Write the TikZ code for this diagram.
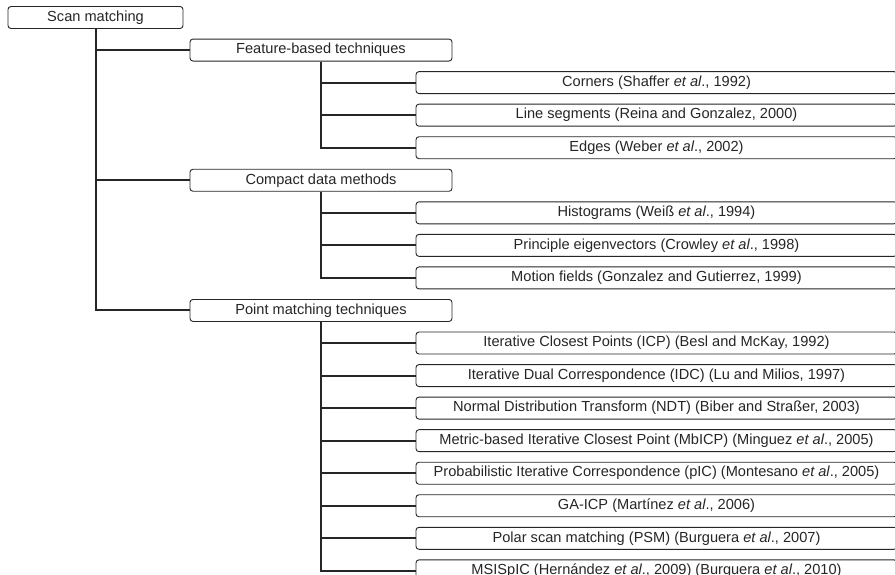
\documentclass[tikz,border=0pt]{standalone}
\usepackage{fontspec}
\setmainfont{Liberation Sans}
\begin{document}
\begin{tikzpicture}[x=1pt,y=-1pt,
  every node/.style={font=\fontsize{14.6pt}{17pt}\selectfont, text=black!85},
  tbox/.style={draw=black!85, line width=0.9pt, rounded corners=3pt, minimum height=22pt, inner sep=0pt, fill=white},
  rootbox/.style={tbox, minimum width=175pt},
  lonebox/.style={tbox, minimum width=262pt},
  ltwobox/.style={tbox, minimum width=481pt},
  conn/.style={draw=black!85, line width=2pt}]
\useasboundingbox (0,0) rectangle (895,574);
\def\rowy#1{17.5+32.55*#1}
% root
\node[rootbox] (root) at (95.5,{\rowy{0}}) {Scan matching};
% level 1
\node[lonebox] (feat) at (321,{\rowy{1}}) {Feature-based techniques};
\node[lonebox] (comp) at (321,{\rowy{5}}) {Compact data methods};
\node[lonebox] (point) at (321,{\rowy{9}}) {Point matching techniques};
% level 2
\node[ltwobox] (f1) at (656.5,{\rowy{2}}) {Corners (Shaffer \textit{et al}., 1992)};
\node[ltwobox] (f2) at (656.5,{\rowy{3}}) {Line segments (Reina and Gonzalez, 2000)};
\node[ltwobox] (f3) at (656.5,{\rowy{4}}) {Edges (Weber \textit{et al}., 2002)};
\node[ltwobox] (c1) at (656.5,{\rowy{6}}) {Histograms (Weiß \textit{et al}., 1994)};
\node[ltwobox] (c2) at (656.5,{\rowy{7}}) {Principle eigenvectors (Crowley \textit{et al}., 1998)};
\node[ltwobox] (c3) at (656.5,{\rowy{8}}) {Motion fields (Gonzalez and Gutierrez, 1999)};
\node[ltwobox] (p1) at (656.5,{\rowy{10}}) {Iterative Closest Points (ICP) (Besl and McKay, 1992)};
\node[ltwobox] (p2) at (656.5,{\rowy{11}}) {Iterative Dual Correspondence (IDC) (Lu and Milios, 1997)};
\node[ltwobox] (p3) at (656.5,{\rowy{12}}) {Normal Distribution Transform (NDT) (Biber and Straßer, 2003)};
\node[ltwobox] (p4) at (656.5,{\rowy{13}}) {Metric-based Iterative Closest Point (MbICP) (Minguez \textit{et al}., 2005)};
\node[ltwobox] (p5) at (656.5,{\rowy{14}}) {Probabilistic Iterative Correspondence (pIC) (Montesano \textit{et al}., 2005)};
\node[ltwobox] (p6) at (656.5,{\rowy{15}}) {GA-ICP (Martínez \textit{et al}., 2006)};
\node[ltwobox] (p7) at (656.5,{\rowy{16}}) {Polar scan matching (PSM) (Burguera \textit{et al}., 2007)};
\node[ltwobox] (p8) at (656.5,{\rowy{17}}) {MSISpIC (Hernández \textit{et al}., 2009) (Burguera \textit{et al}., 2010)};
% connectors
\foreach \c in {feat,comp,point} \draw[conn] (root.south) |- (\c.west);
\foreach \c in {f1,f2,f3} \draw[conn] (feat.south) |- (\c.west);
\foreach \c in {c1,c2,c3} \draw[conn] (comp.south) |- (\c.west);
\foreach \c in {p1,p2,p3,p4,p5,p6,p7,p8} \draw[conn] (point.south) |- (\c.west);
\end{tikzpicture}
\end{document}
